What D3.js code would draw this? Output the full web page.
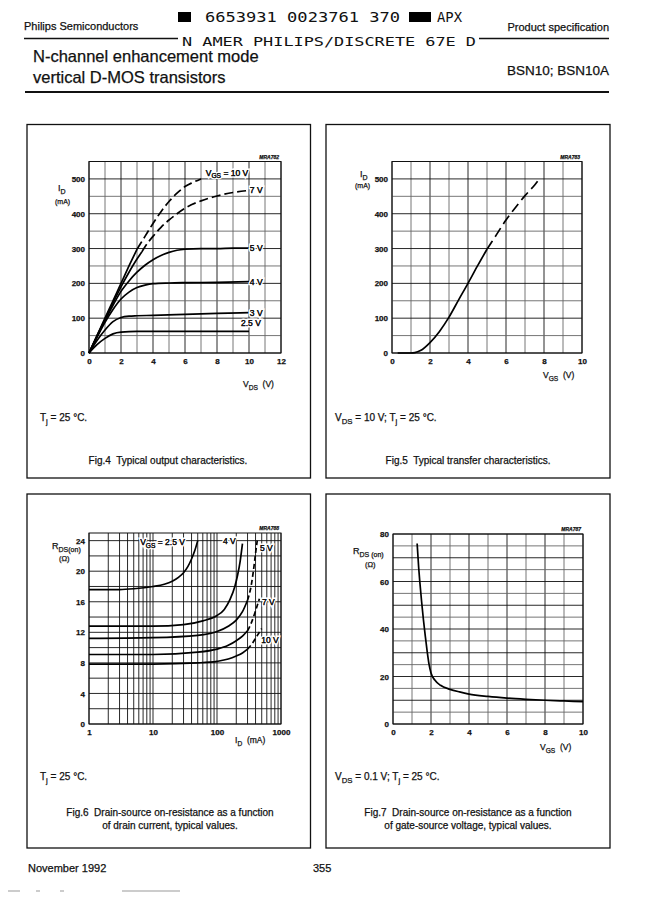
<!DOCTYPE html>
<html>
<head>
<meta charset="utf-8">
<script src="https://cdn.jsdelivr.net/npm/d3@7"></script>
<style>
body { margin: 0; background: #fff; }
svg { display: block; font-family: "Liberation Sans", Arial, sans-serif; }
text { fill: #111; white-space: pre; stroke: #111; stroke-width: 0.25px; }
text.mono { stroke: none; }
text.halo { stroke: #fff; stroke-width: 3px; paint-order: stroke; }
</style>
</head>
<body>
<svg id="page" width="672" height="899"></svg>
<script>
// Fig.4 output characteristics, ID (mA) against VDS (V)
const fig4Vgs10 = [[0,0],[0.5,50],[1,100],[1.5,150],[2,200],[2.5,250],[3,298]];
const fig4Vgs10Dash = [[3,298],[3.5,335],[4,372],[4.5,406],[5,435],[5.5,459],[6,478],[6.5,490],[7,500]];
const fig4Vgs7 = [[0,0],[0.5,49],[1,97],[1.5,144],[2,190],[2.5,232],[3,270],[3.3,290]];
const fig4Vgs7Dash = [[3.3,290],[3.5,305],[4,335],[4.5,361],[5,382],[5.5,400],[6,416],[7,437],[8,451],[9,461],[10,467]];
const fig4Vgs5 = [[0,0],[0.5,48],[1,93],[1.5,137],[2,177],[2.5,207],[3,232],[3.5,252],[4,268],[4.5,280],[5,289],[5.5,295],[6,298],[7,300],[8,300],[9,301],[10,301]];
const fig4Vgs4 = [[0,0],[0.5,45],[1,88],[1.5,125],[2,155],[2.5,175],[3,188],[3.5,195],[4,199],[5,201],[6,202],[8,203],[10,205]];
const fig4Vgs3 = [[0,0],[0.5,36],[1,66],[1.5,90],[2,102],[2.5,106],[3,107],[4,108],[6,111],[8,114],[10,116]];
const fig4Vgs2p5 = [[0,0],[0.5,24],[1,42],[1.5,55],[2,60],[3,62],[5,62],[10,62]];
const fig4XTicks = [0, 2, 4, 6, 8, 10, 12];
const fig4YTicks = [0, 100, 200, 300, 400, 500];

// Fig.5 transfer characteristic, ID (mA) against VGS (V)
const fig5Solid = [[0.3,0],[1,0],[1.2,1],[1.5,7],[2,30],[2.5,62],[3,103],[3.5,152],[4,200],[4.5,250],[5,298]];
const fig5Dash = [[5,298],[5.5,340],[6,382],[6.5,418],[7,452],[7.5,482],[7.75,500]];
const fig5XTicks = [0, 2, 4, 6, 8, 10];
const fig5YTicks = [0, 100, 200, 300, 400, 500];

// Fig.6 RDS(on) (ohm) against ID (mA), log x
const fig6Vgs2p5 = [[1,17.6],[3,17.6],[5,17.7],[10,18.0],[15,18.3],[20,18.7],[25,19.2],[30,19.8],[35,20.6],[40,21.6],[45,22.7],[50,24]];
const fig6Vgs4 = [[1,12.8],[10,12.8],[30,13.0],[60,13.5],[100,14.2],[130,15.0],[160,16.3],[190,18.0],[210,19.5],[230,21.3],[250,23.6]];
const fig6Vgs5 = [[1,11.2],[10,11.3],[50,11.6],[100,12.1],[150,12.8],[200,13.6],[250,14.7],[300,16.2]];
const fig6Vgs5Dash = [[300,16.2],[340,18.0],[370,20.0],[400,22.3],[425,24.0]];
const fig6Vgs7 = [[1,9.1],[10,9.1],[50,9.4],[100,9.8],[150,10.3],[200,10.9],[250,11.5],[300,12.2]];
const fig6Vgs7Dash = [[300,12.2],[350,13.4],[400,14.8],[460,16.4]];
const fig6Vgs10 = [[1,7.85],[10,7.85],[50,8.0],[100,8.2],[150,8.5],[200,8.9],[250,9.3],[300,9.8]];
const fig6Vgs10Dash = [[300,9.8],[360,10.6],[420,11.5],[500,12.5]];
const fig6XTicks = [1, 10, 100, 1000];
const fig6YTicks = [0, 4, 8, 12, 16, 20, 24];

// Fig.7 RDS(on) (ohm) against VGS (V)
const fig7Curve = [[1.27,76],[1.35,66],[1.41,60],[1.5,52],[1.6,44],[1.7,37],[1.8,30.5],[1.9,25],[2.0,21.5],[2.2,18.5],[2.5,16.3],[3,14.6],[3.5,13.5],[4,12.6],[5,11.6],[6,10.9],[7,10.4],[8,10],[9,9.7],[10,9.4]];
const fig7XTicks = [0, 2, 4, 6, 8, 10];
const fig7YTicks = [0, 20, 40, 60, 80];

const svg = d3.select('#page');

// text with subscripts: parts are strings or {sub: '...'}
function rich(sel, x, y, parts, size, anchor) {
	const t = sel.append('text').attr('x', x).attr('y', y)
		.attr('font-size', size).attr('text-anchor', anchor || 'start');
	let down = 0;
	parts.forEach(p => {
		const isSub = typeof p !== 'string';
		const s = t.append('tspan').text(isSub ? p.sub : p);
		const want = isSub ? size * 0.3 : 0;
		if (want !== down) { s.attr('dy', want - down); down = want; }
		if (isSub) s.attr('font-size', size * 0.78);
	});
	return t;
}

function panel(o) {
	const g = svg.append('g');
	const x = (o.log ? d3.scaleLog() : d3.scaleLinear()).domain(o.xDomain).range([o.left, o.right]);
	const y = d3.scaleLinear().domain(o.yDomain).range([o.bottom, o.top]);

	const xs = o.log ? x.ticks() : d3.range(o.xDomain[0], o.xDomain[1] + 1e-9, o.xStep);
	const ys = d3.range(o.yDomain[0], o.yDomain[1] + 1e-9, o.yStep);
	g.append('g').selectAll('line').data(xs).join('line')
		.attr('x1', d => x(d)).attr('x2', d => x(d))
		.attr('y1', o.top).attr('y2', o.bottom)
		.attr('stroke', d => o.xMajor(d) ? '#111' : '#666').attr('stroke-width', 0.9);
	g.append('g').selectAll('line').data(ys).join('line')
		.attr('x1', o.left).attr('x2', o.right)
		.attr('y1', d => y(d)).attr('y2', d => y(d))
		.attr('stroke', d => o.yMajor(d) ? '#111' : '#666').attr('stroke-width', 0.9);
	g.append('rect').attr('x', o.left).attr('y', o.top)
		.attr('width', o.right - o.left).attr('height', o.bottom - o.top)
		.attr('fill', 'none').attr('stroke', '#111').attr('stroke-width', 1);

	const ya = g.append('g').attr('transform', `translate(${o.left},0)`)
		.call(d3.axisLeft(y).tickValues(o.yTicks).tickSize(0).tickPadding(4).tickFormat(d3.format('d')));
	const xa = g.append('g').attr('transform', `translate(0,${o.bottom})`)
		.call(d3.axisBottom(x).tickValues(o.xTicks).tickSize(0).tickPadding(5).tickFormat(d3.format('d')));
	[ya, xa].forEach(a => {
		a.select('.domain').remove();
		a.attr('font-family', null).attr('font-size', 8).attr('font-weight', 'bold');
		a.selectAll('text').attr('fill', '#111');
	});

	g.append('text').attr('x', o.right - 2).attr('y', o.top - 3)
		.attr('text-anchor', 'end').attr('font-size', 5).attr('font-style', 'italic')
		.attr('font-weight', 'bold').text(o.code);

	return { g, x, y };
}

function curve(p, pts, dashed, dash) {
	const line = d3.line().x(d => p.x(d[0])).y(d => p.y(d[1])).curve(d3.curveMonotoneX);
	p.g.append('path').attr('d', line(pts)).attr('fill', 'none')
		.attr('stroke', '#000').attr('stroke-width', 1.7)
		.attr('stroke-dasharray', dashed ? dash : null);
}

function label(p, xv, yv, parts) {
	const t = rich(p.g, p.x(xv), p.y(yv), parts, 8.5).attr('dy', '0.35em');
	t.clone(true).classed('halo', true);
	t.raise();
}

function mono(x, y, size, len, str) {
	svg.append('text').attr('class', 'mono')
		.attr('transform', `translate(${x},${y}) scale(1,0.8)`)
		.attr('font-family', 'DejaVu Sans Mono').attr('font-size', size)
		.attr('textLength', len).attr('lengthAdjust', 'spacingAndGlyphs').text(str);
}

// ---------- page header
svg.append('text').attr('x', 24).attr('y', 30).attr('font-size', 11).text('Philips Semiconductors');
svg.append('text').attr('x', 609).attr('y', 31).attr('font-size', 11).attr('text-anchor', 'end').text('Product specification');
svg.append('rect').attr('x', 178).attr('y', 12).attr('width', 13).attr('height', 10).attr('fill', '#000');
svg.append('rect').attr('x', 409).attr('y', 12).attr('width', 22).attr('height', 10).attr('fill', '#000');
mono(205, 22, 16.5, 195, '6653931 0023761 370');
mono(437, 22, 16.5, 25, 'APX');
svg.append('line').attr('x1', 24).attr('x2', 178).attr('y1', 38.5).attr('y2', 38.5).attr('stroke', '#111').attr('stroke-width', 1.3);
svg.append('line').attr('x1', 479).attr('x2', 609).attr('y1', 38.5).attr('y2', 38.5).attr('stroke', '#111').attr('stroke-width', 1.3);
mono(182, 46, 16, 294, 'N AMER PHILIPS/DISCRETE 67E D');
svg.append('text').attr('x', 33).attr('y', 62).attr('font-size', 16.5).text('N-channel enhancement mode');
svg.append('text').attr('x', 33).attr('y', 83).attr('font-size', 16.5).text('vertical D-MOS transistors');
svg.append('text').attr('x', 609).attr('y', 75).attr('font-size', 13.5).attr('text-anchor', 'end').text('BSN10; BSN10A');
svg.append('line').attr('x1', 25).attr('x2', 609).attr('y1', 92).attr('y2', 92).attr('stroke', '#111').attr('stroke-width', 2);

// ---------- frames
[[27, 124.5], [326, 124.5], [27, 494], [326, 494]].forEach(([bx, by]) => {
	svg.append('rect').attr('x', bx).attr('y', by).attr('width', bx < 300 ? 283.5 : 284)
		.attr('height', by < 300 ? 353.5 : 354)
		.attr('fill', 'none').attr('stroke', '#111').attr('stroke-width', 1.3);
});

// ---------- Fig.4
const p4 = panel({
	left: 89, right: 281, top: 161.5, bottom: 353,
	xDomain: [0, 12], yDomain: [0, 550], xStep: 1, yStep: 50,
	xMajor: d => d % 2 === 0, yMajor: d => d % 100 === 0,
	xTicks: fig4XTicks, yTicks: fig4YTicks, code: 'MRA782'
});
curve(p4, fig4Vgs2p5);
curve(p4, fig4Vgs3);
curve(p4, fig4Vgs4);
curve(p4, fig4Vgs5);
curve(p4, fig4Vgs7);
curve(p4, fig4Vgs7Dash, true, '9,4');
curve(p4, fig4Vgs10);
curve(p4, fig4Vgs10Dash, true, '9,4');
label(p4, 7.3, 518, ['V', {sub: 'GS'}, ' = 10 V']);
label(p4, 10.05, fig4Vgs7Dash[fig4Vgs7Dash.length - 1][1], ['7 V']);
label(p4, 10.05, fig4Vgs5[fig4Vgs5.length - 1][1], ['5 V']);
label(p4, 10.05, fig4Vgs4[fig4Vgs4.length - 1][1], ['4 V']);
label(p4, 10.05, fig4Vgs3[fig4Vgs3.length - 1][1], ['3 V']);
label(p4, 9.5, 87, ['2.5 V']);
rich(svg, 58, 191, ['I', {sub: 'D'}], 9);
svg.append('text').attr('x', 55).attr('y', 204).attr('font-size', 7).text('(mA)');
rich(svg, 243, 387, ['V', {sub: 'DS'}, '  (V)'], 8.5);

// ---------- Fig.5
const p5 = panel({
	left: 392, right: 582, top: 161.5, bottom: 353,
	xDomain: [0, 10], yDomain: [0, 550], xStep: 1, yStep: 50,
	xMajor: d => d % 2 === 0, yMajor: d => d % 100 === 0,
	xTicks: fig5XTicks, yTicks: fig5YTicks, code: 'MRA783'
});
curve(p5, fig5Solid);
curve(p5, fig5Dash, true, '10,5');
rich(svg, 360, 177, ['I', {sub: 'D'}], 9);
svg.append('text').attr('x', 355).attr('y', 188).attr('font-size', 7).text('(mA)');
rich(svg, 543, 378, ['V', {sub: 'GS'}, '  (V)'], 8.5);

// ---------- Fig.6
const p6 = panel({
	left: 89, right: 281, top: 533, bottom: 724, log: true,
	xDomain: [1, 1000], yDomain: [0, 25], yStep: 2,
	xMajor: () => true, yMajor: () => true,
	xTicks: fig6XTicks, yTicks: fig6YTicks, code: 'MRA788'
});
curve(p6, fig6Vgs2p5);
curve(p6, fig6Vgs4);
curve(p6, fig6Vgs5);
curve(p6, fig6Vgs5Dash, true, '5,3');
curve(p6, fig6Vgs7);
curve(p6, fig6Vgs7Dash, true, '5,3');
curve(p6, fig6Vgs10);
curve(p6, fig6Vgs10Dash, true, '5,3');
label(p6, 6.3, 23.8, ['V', {sub: 'GS'}, ' = 2.5 V']);
label(p6, 124, 23.9, ['4 V']);
label(p6, 470, 23.0, ['5 V']);
label(p6, 505, 15.9, ['7 V']);
label(p6, 490, 11.0, ['10 V']);
rich(svg, 52, 549, ['R', {sub: 'DS(on)'}], 9);
svg.append('text').attr('x', 59).attr('y', 561).attr('font-size', 7.5).text('(Ω)');
rich(svg, 235, 743, ['I', {sub: 'D'}, '  (mA)'], 8.5);

// ---------- Fig.7
const p7 = panel({
	left: 393, right: 583, top: 534, bottom: 724,
	xDomain: [0, 10], yDomain: [0, 80], xStep: 1, yStep: 5,
	xMajor: d => d % 2 === 0, yMajor: d => d % 10 === 0,
	xTicks: fig7XTicks, yTicks: fig7YTicks, code: 'MRA787'
});
curve(p7, fig7Curve);
rich(svg, 353, 554, ['R', {sub: 'DS (on)'}], 9);
svg.append('text').attr('x', 365).attr('y', 567).attr('font-size', 7.5).text('(Ω)');
rich(svg, 540, 750, ['V', {sub: 'GS'}, '  (V)'], 8.5);

// ---------- conditions and captions
rich(svg, 40, 421, ['T', {sub: 'j'}, ' = 25 °C.'], 10);
rich(svg, 335, 421, ['V', {sub: 'DS'}, ' = 10 V; T', {sub: 'j'}, ' = 25 °C.'], 10);
rich(svg, 40, 780, ['T', {sub: 'j'}, ' = 25 °C.'], 10);
rich(svg, 335, 780, ['V', {sub: 'DS'}, ' = 0.1 V; T', {sub: 'j'}, ' = 25 °C.'], 10);
const caps = [
	[168, 464, 'Fig.4  Typical output characteristics.'],
	[468, 464, 'Fig.5  Typical transfer characteristics.'],
	[170, 816, 'Fig.6  Drain-source on-resistance as a function'],
	[170, 829, 'of drain current, typical values.'],
	[468, 816, 'Fig.7  Drain-source on-resistance as a function'],
	[468, 829, 'of gate-source voltage, typical values.']
];
caps.forEach(([cx, cy, t]) => {
	svg.append('text').attr('x', cx).attr('y', cy).attr('font-size', 10).attr('text-anchor', 'middle').text(t);
});

// ---------- footer
svg.append('text').attr('x', 28).attr('y', 872).attr('font-size', 11).text('November 1992');
svg.append('text').attr('x', 313).attr('y', 872).attr('font-size', 11).text('355');
svg.append('path').attr('d', 'M8,891H20M36,891H40M60,891H64M122,891H180')
	.attr('stroke', '#999').attr('stroke-width', 1);
</script>
</body>
</html>
